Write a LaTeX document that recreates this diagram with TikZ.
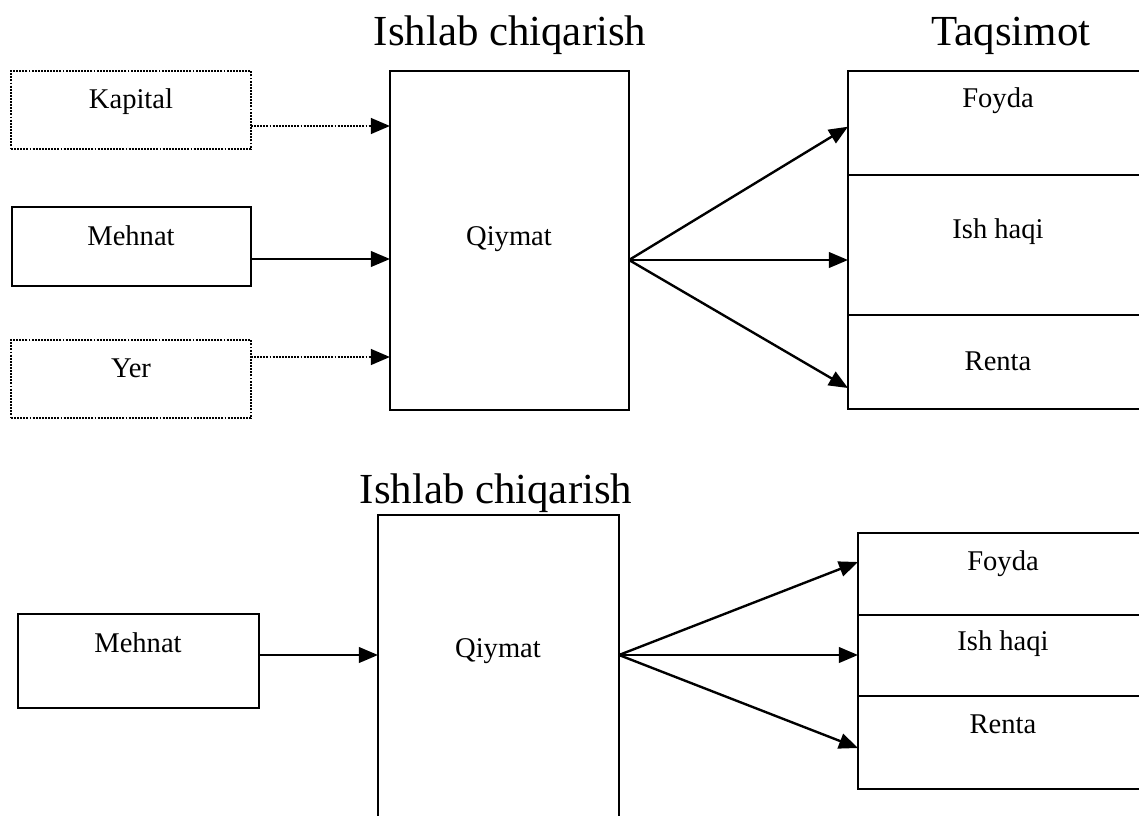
\documentclass[tikz,border=0pt]{standalone}
\usepackage{fontspec}
\setmainfont{Liberation Serif}
\usetikzlibrary{arrows.meta,calc}
\begin{document}
\begin{tikzpicture}[x=0.42pt,y=-0.42pt,
  box/.style={draw,line width=1pt,rectangle,inner sep=0pt,outer sep=0pt},
  dotbox/.style={box,dash pattern=on 0.8pt off 0.5pt},
  lbl/.style={anchor=base,inner sep=0pt,font=\fontsize{12}{14}\selectfont},
  ttl/.style={anchor=base,inner sep=0pt,font=\fontsize{18}{21}\selectfont},
  arr/.style={line width=1pt,-{Triangle[length=8pt,width=6.5pt]}},
  dotarr/.style={arr,line width=1.15pt,dash pattern=on 0.8pt off 0.5pt}]
\clip (0,0) rectangle (1139,815);
% ---------- top diagram ----------
\node[ttl] (t1) at (510,45) {Ishlab chiqarish};
\node[ttl] (t2) at (1011,45) {Taqsimot};
\node[dotbox,minimum width=240*0.42pt,minimum height=78*0.42pt] (kap) at (131,110) {};
\node[box,minimum width=239*0.42pt,minimum height=79*0.42pt] (meh) at (131.5,246.5) {};
\node[dotbox,minimum width=240*0.42pt,minimum height=78*0.42pt] (yer) at (131,379) {};
\node[box,minimum width=239*0.42pt,minimum height=339*0.42pt] (qiy) at (509.5,240.5) {};
\node[box,minimum width=302*0.42pt,minimum height=104*0.42pt] (foy) at (999,123) {};
\node[box,minimum width=302*0.42pt,minimum height=140*0.42pt] (ish) at (999,245) {};
\node[box,minimum width=302*0.42pt,minimum height=94*0.42pt] (ren) at (999,362) {};
\node[lbl] (kapT) at (131,108) {Kapital};
\node[lbl] (mehT) at (131,245) {Mehnat};
\node[lbl] (yerT) at (131,377) {Yer};
\node[lbl] (qiyT) at (509,245) {Qiymat};
\node[lbl] (foyT) at (998,107) {Foyda};
\node[lbl] (ishT) at (998,238) {Ish haqi};
\node[lbl] (renT) at (998,370) {Renta};
\coordinate (ka) at ($(kap.east)+(0,16)$);
\coordinate (ma) at ($(meh.east)+(0,12.5)$);
\coordinate (ya) at ($(yer.east)+(0,-22)$);
\draw[dotarr] (ka) -- (ka -| qiy.west);
\draw[arr] (ma) -- (ma -| qiy.west);
\draw[dotarr] (ya) -- (ya -| qiy.west);
\coordinate (qo) at ($(qiy.east)+(0,19.5)$);
\draw[arr] (qo) -- ($(foy.west)+(0,3.7)$);
\draw[arr] (qo) -- (qo -| ish.west);
\draw[arr] (qo) -- ($(ren.west)+(0,26)$);
% ---------- bottom diagram ----------
\node[ttl] (t3) at (496,503) {Ishlab chiqarish};
\node[box,minimum width=241*0.42pt,minimum height=94*0.42pt] (meh2) at (138.5,661) {};
\node[box,minimum width=241*0.42pt,minimum height=315*0.42pt] (qiy2) at (498.5,672.5) {};
\node[box,minimum width=292*0.42pt,minimum height=82*0.42pt] (foy2) at (1004,574) {};
\node[box,minimum width=292*0.42pt,minimum height=81*0.42pt] (ish2) at (1004,655.5) {};
\node[box,minimum width=292*0.42pt,minimum height=93*0.42pt] (ren2) at (1004,742.5) {};
\node[lbl] (meh2T) at (138,652) {Mehnat};
\node[lbl] (qiy2T) at (498,657) {Qiymat};
\node[lbl] (foy2T) at (1003,570) {Foyda};
\node[lbl] (ish2T) at (1003,650) {Ish haqi};
\node[lbl] (ren2T) at (1003,733) {Renta};
\coordinate (ma2) at ($(meh2.east)+(0,-6)$);
\draw[arr] (ma2) -- (ma2 -| qiy2.west);
\coordinate (qo2) at ($(qiy2.east)+(0,-17.5)$);
\draw[arr] (qo2) -- ($(foy2.west)+(0,-12)$);
\draw[arr] (qo2) -- (qo2 -| ish2.west);
\draw[arr] (qo2) -- ($(ren2.west)+(0,5.5)$);
\end{tikzpicture}
\end{document}
